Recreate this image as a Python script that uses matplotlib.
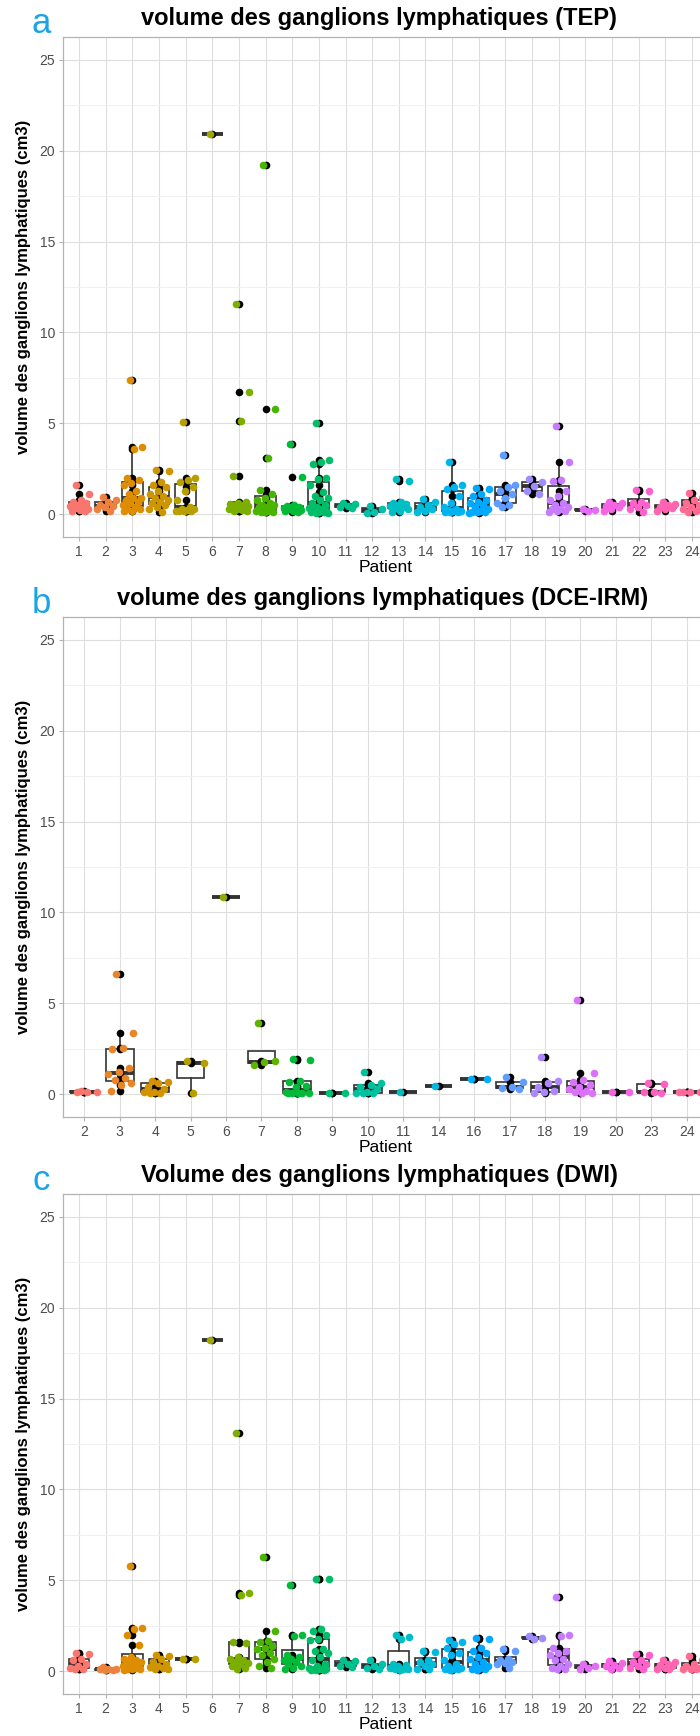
import numpy as np
import matplotlib
matplotlib.use("Agg")
import matplotlib.pyplot as plt

plt.rcParams['font.family'] = ['Liberation Sans', 'DejaVu Sans']

# Volumes (cm3) par patient, une liste par patient
tep_patients = list(range(1, 25))
tep_values = [
    [1.6, 1.1, 0.8, 0.7, 0.6, 0.5, 0.45, 0.4, 0.35, 0.3, 0.25, 0.2, 0.2],
    [0.95, 0.8, 0.65, 0.5, 0.45, 0.4, 0.3, 0.2],
    [7.4, 3.7, 3.6, 2.0, 1.9, 1.7, 1.6, 1.3, 1.1, 0.9, 0.9, 0.8, 0.7, 0.6, 0.5, 0.4, 0.3, 0.3, 0.2, 0.2],
    [2.45, 2.4, 1.8, 1.6, 1.5, 1.3, 1.1, 1.0, 0.9, 0.8, 0.7, 0.6, 0.5, 0.4, 0.3, 0.1],
    [5.05, 2.0, 1.9, 1.8, 1.5, 1.3, 0.8, 0.4, 0.3, 0.3, 0.25, 0.2, 0.2, 0.2, 0.2],
    [20.9],
    [11.55, 6.75, 5.15, 2.1, 0.7, 0.6, 0.55, 0.5, 0.5, 0.45, 0.4, 0.4, 0.35, 0.3, 0.3, 0.25, 0.2, 0.2],
    [19.2, 5.8, 3.1, 1.35, 1.1, 0.9, 0.8, 0.6, 0.5, 0.5, 0.4, 0.4, 0.3, 0.3, 0.2, 0.2, 0.15, 0.1, 0.1],
    [3.85, 2.05, 0.5, 0.45, 0.4, 0.4, 0.35, 0.3, 0.3, 0.25, 0.2, 0.2, 0.15],
    [5.0, 3.0, 2.9, 2.75, 2.0, 1.95, 1.6, 1.2, 1.0, 0.9, 0.8, 0.6, 0.5, 0.4, 0.35, 0.3, 0.25, 0.2, 0.15, 0.1, 0.1, 0.05, 0.05],
    [0.6, 0.55, 0.45, 0.4, 0.35],
    [0.45, 0.3, 0.15, 0.05],
    [1.95, 1.85, 0.7, 0.6, 0.55, 0.5, 0.45, 0.4, 0.35, 0.3, 0.2, 0.1],
    [0.85, 0.7, 0.5, 0.4, 0.3, 0.2, 0.1],
    [2.9, 1.6, 1.5, 1.4, 1.0, 0.6, 0.4, 0.3, 0.25, 0.2, 0.2, 0.15, 0.1, 0.1],
    [1.45, 1.4, 1.1, 1.0, 0.8, 0.7, 0.6, 0.5, 0.4, 0.3, 0.2, 0.15, 0.1, 0.1, 0.05],
    [3.25, 1.6, 1.5, 1.3, 1.1, 0.9, 0.6, 0.5, 0.4],
    [1.95, 1.75, 1.55, 1.3, 1.1],
    [4.85, 2.9, 1.9, 1.85, 1.3, 1.0, 0.8, 0.6, 0.5, 0.4, 0.3, 0.3, 0.2, 0.2, 0.1],
    [0.3, 0.25, 0.2],
    [0.7, 0.6, 0.5, 0.45, 0.4, 0.3, 0.2],
    [1.35, 1.3, 0.7, 0.6, 0.5, 0.4, 0.3, 0.1],
    [0.65, 0.55, 0.5, 0.4, 0.35, 0.3, 0.2],
    [1.15, 0.9, 0.8, 0.6, 0.5, 0.4, 0.3, 0.2, 0.1],
]

irm_patients = [2, 3, 4, 5, 6, 7, 8, 9, 10, 11, 14, 16, 17, 18, 19, 20, 23, 24]
irm_values = [
    [0.2, 0.15, 0.1, 0.1],
    [6.6, 3.35, 2.55, 2.5, 1.45, 1.2, 1.1, 0.9, 0.8, 0.6, 0.5, 0.2],
    [0.75, 0.7, 0.6, 0.4, 0.3, 0.15, 0.1, 0.05, 0.05],
    [1.85, 1.7, 0.05],
    [10.85],
    [3.9, 1.85, 1.75, 1.6],
    [1.95, 1.9, 0.75, 0.7, 0.45, 0.4, 0.1, 0.05, 0.05, 0.05, 0.05, 0.05],
    [0.07, 0.05],
    [1.25, 0.6, 0.5, 0.4, 0.3, 0.15, 0.05, 0.05, 0.05],
    [0.1],
    [0.45],
    [0.85, 0.85],
    [0.97, 0.7, 0.4, 0.35, 0.3],
    [2.05, 0.75, 0.6, 0.4, 0.2, 0.1, 0.05],
    [5.2, 1.15, 0.8, 0.7, 0.5, 0.4, 0.3, 0.2, 0.1, 0.05, 0.05],
    [0.1, 0.1],
    [0.6, 0.55, 0.15, 0.1, 0.05],
    [0.15, 0.12, 0.1, 0.1],
]

dwi_patients = list(range(1, 25))
dwi_values = [
    [1.0, 0.95, 0.7, 0.6, 0.4, 0.3, 0.2, 0.1, 0.1],
    [0.25, 0.15, 0.1, 0.1, 0.05, 0.05],
    [5.8, 2.4, 2.35, 2.0, 1.45, 0.8, 0.7, 0.6, 0.5, 0.5, 0.45, 0.4, 0.35, 0.3, 0.3, 0.2, 0.15, 0.1, 0.1, 0.05],
    [0.9, 0.85, 0.7, 0.5, 0.4, 0.3, 0.25, 0.2, 0.1, 0.1],
    [0.7, 0.7],
    [18.2],
    [13.1, 4.3, 4.2, 1.6, 1.55, 0.8, 0.7, 0.6, 0.5, 0.45, 0.4, 0.3, 0.2, 0.1],
    [6.3, 2.2, 1.65, 1.6, 1.4, 1.3, 1.2, 1.0, 0.9, 0.7, 0.5, 0.3, 0.2],
    [4.75, 2.0, 1.95, 0.9, 0.8, 0.7, 0.6, 0.5, 0.4, 0.3, 0.2, 0.1],
    [5.1, 5.1, 2.3, 2.2, 2.0, 1.8, 1.7, 1.2, 1.1, 1.0, 0.8, 0.6, 0.4, 0.3, 0.2, 0.15, 0.1, 0.1, 0.1, 0.05, 0.05, 0.05],
    [0.6, 0.55, 0.4, 0.3, 0.25],
    [0.6, 0.4, 0.3, 0.2, 0.1],
    [2.0, 1.9, 1.8, 0.4, 0.35, 0.3, 0.2, 0.15, 0.1, 0.1, 0.05],
    [1.1, 1.05, 0.6, 0.5, 0.4, 0.3, 0.15, 0.1],
    [1.7, 1.6, 1.5, 1.3, 1.0, 0.9, 0.6, 0.4, 0.3, 0.2, 0.15, 0.1, 0.1, 0.05],
    [1.85, 1.8, 1.3, 1.1, 1.0, 0.8, 0.7, 0.5, 0.4, 0.3, 0.2, 0.15, 0.1, 0.05],
    [1.2, 1.1, 0.7, 0.6, 0.5, 0.45, 0.4, 0.2],
    [1.95, 1.85, 1.8],
    [4.1, 2.0, 1.95, 1.3, 1.1, 1.0, 0.9, 0.7, 0.6, 0.4, 0.3, 0.2, 0.1, 0.1],
    [0.4, 0.3, 0.2, 0.1],
    [0.55, 0.45, 0.35, 0.3, 0.2, 0.1],
    [0.95, 0.9, 0.6, 0.5, 0.4, 0.3, 0.2, 0.1],
    [0.6, 0.5, 0.4, 0.35, 0.3, 0.2, 0.15, 0.1],
    [0.85, 0.6, 0.4, 0.3, 0.2, 0.15, 0.1, 0.1],
]

titles = ["volume des ganglions lymphatiques (TEP)",
          "volume des ganglions lymphatiques (DCE-IRM)",
          "Volume des ganglions lymphatiques (DWI)"]
letters = ["a", "b", "c"]
ylabel = "volume des ganglions lymphatiques (cm3)"


def hue_pal(n):
    # palette hcl par defaut de ggplot (l=65, c=100)
    h = np.deg2rad(15 + 360 * np.arange(n) / n)
    L, C = 65.0, 100.0
    Xn, Yn, Zn = 95.047, 100.0, 108.883
    un = 4 * Xn / (Xn + 15 * Yn + 3 * Zn)
    vn = 9 * Yn / (Xn + 15 * Yn + 3 * Zn)
    Y = np.full(n, Yn * ((L + 16) / 116) ** 3)
    up = C * np.cos(h) / (13 * L) + un
    vp = C * np.sin(h) / (13 * L) + vn
    X = 9 * Y * up / (4 * vp)
    Z = Y * (12 - 3 * up - 20 * vp) / (4 * vp)
    xyz = np.vstack([X, Y, Z]) / 100
    M = np.array([[3.2404542, -1.5371385, -0.4985314],
                  [-0.9692660, 1.8760108, 0.0415560],
                  [0.0556434, -0.2040259, 1.0572252]])
    rgb = M @ xyz
    rgb = np.where(rgb <= 0.0031308, 12.92 * rgb, 1.055 * np.clip(rgb, 0, None) ** (1 / 2.4) - 0.055)
    return np.clip(rgb.T, 0, 1)


W, H = 700, 1736
fig = plt.figure(figsize=(W / 100, H / 100), dpi=100)

panels = [(tep_patients, tep_values, 37, 537),
          (irm_patients, irm_values, 617, 1117),
          (dwi_patients, dwi_values, 1194, 1694)]
left, right = 63, 708
title_x = [379, 383, 379]

for k, (patients, values, top, bottom) in enumerate(panels):
    ax = fig.add_axes([left / W, 1 - bottom / H, (right - left) / W, (bottom - top) / H])
    n = len(patients)
    pos = np.arange(1, n + 1)
    cols = hue_pal(n)

    ax.boxplot(values, positions=pos, widths=0.78, showfliers=False, showcaps=False,
               whis=1.5, patch_artist=True, manage_ticks=False,
               boxprops=dict(facecolor="white", edgecolor="#333333", linewidth=1.2),
               whiskerprops=dict(color="#333333", linewidth=1.2),
               medianprops=dict(color="#333333", linewidth=2.8),
               zorder=2)

    for i, vals in enumerate(values):
        vals = np.array(vals)
        ax.scatter(np.full(len(vals), pos[i]), vals, s=30, color="black",
                   linewidths=0, zorder=3)
        # decalage horizontal regulier des points colores
        j = np.arange(len(vals))
        off = 0.38 * (2 * ((0.37 + j * 0.618034) % 1) - 1)
        ax.scatter(pos[i] + off, vals, s=30, color=cols[i], linewidths=0, zorder=4)

    ax.set_xlim(0.4, n + 0.6)
    ax.set_ylim(-1.25, 26.25)
    ax.set_xticks(pos)
    ax.set_xticklabels([str(p) for p in patients])
    ax.set_yticks([0, 5, 10, 15, 20, 25])
    ax.set_yticks(np.arange(2.5, 25, 5), minor=True)
    ax.grid(which="major", color="#DEDEDE", linewidth=0.8, zorder=0)
    ax.grid(which="minor", axis="y", color="#EEEEEE", linewidth=0.6, zorder=0)
    ax.set_axisbelow(True)
    for sp in ax.spines.values():
        sp.set_color("#B3B3B3")
        sp.set_linewidth(0.9)
    ax.tick_params(which="major", length=2.75, width=0.8, color="#B3B3B3",
                   labelsize=10, labelcolor="#4D4D4D", pad=3)
    ax.tick_params(which="minor", length=0)
    ax.set_xlabel("Patient", fontsize=12.5, labelpad=1)
    ax.set_ylabel(ylabel, fontsize=12, fontweight="bold", labelpad=6)

    fig.text(title_x[k] / W, 1 - (top - 12) / H, titles[k], ha="center", va="baseline",
             fontsize=17, fontweight="bold")
    fig.text(41 / W, 1 - (top - 4) / H, letters[k], ha="center", va="baseline",
             fontsize=25, color="#1AA3E8")

fig.savefig("out.png", dpi=100)
